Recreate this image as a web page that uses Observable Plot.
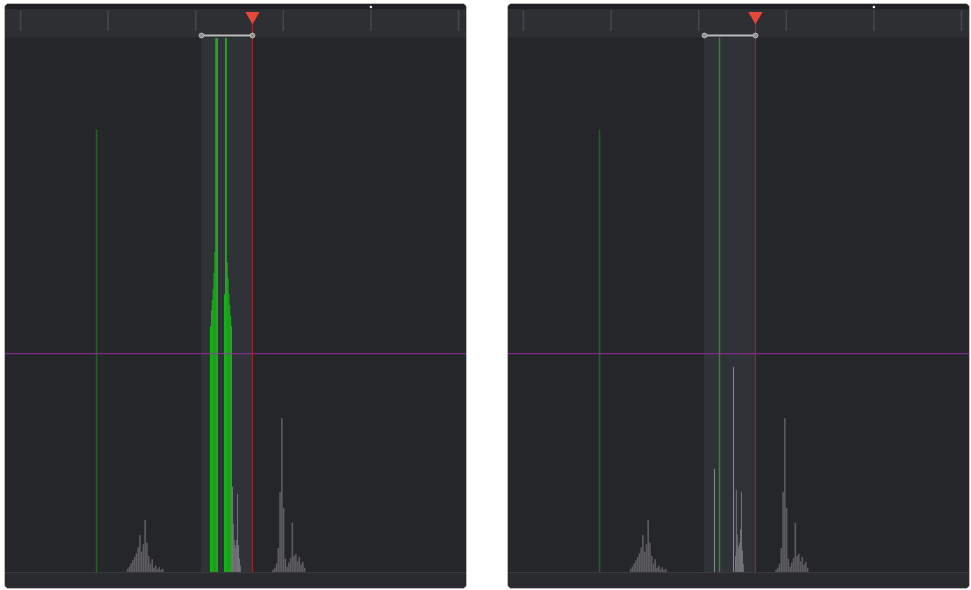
<!DOCTYPE html>
<html><head><meta charset="utf-8">
<script src="https://cdn.jsdelivr.net/npm/d3@7"></script>
<script src="https://cdn.jsdelivr.net/npm/@observablehq/plot@0.6"></script>
<style>
html,body{margin:0;padding:0;background:#fff;width:971px;height:590px;overflow:hidden;}
.panel{position:absolute;top:3px;width:461px;height:584px;border:1px solid #b9b9b9;border-radius:5px;overflow:hidden;background:#252629;}
#left{left:4px} #right{left:507px}
.panel svg{display:block}
</style></head><body>
<div id="left" class="panel"></div><div id="right" class="panel"></div>
<script>
// ---------------- data ----------------
// header time ticks (timeline units)
const headerTicks = [0, 100, 200, 300, 400, 500];
const headerMarker = [400];
// selected range and playhead (timeline units)
const rangeIn = 206.6;
const rangeOut = 264.8;
// reference guides
const guideX = 86.8;        // dark green guide position
const guideTop = 82.8;      // dark green guide height
const purpleLevel = 41.0;   // horizontal purple level
const greenGuideRight = 223.7; // thin green line, right panel

// low cluster (bin start, 2-unit bins)
const lowBins   = [122,124,126,128,130,132,134,136,138,140,142,144,146,148,150,152,154,156,158,160,162];
const lowCounts = [0.6,1.0,1.6,2.2,2.8,3.5,4.6,6.9,3.8,5.2,9.7,5.5,3.0,1.6,2.4,0.8,1.2,0.5,0.9,0.4,0.6];

// high cluster (bin start, 2-unit bins)
const highBins   = [288,290,292,294,296,298,300,302,304,306,308,310,312,314,316,318,320,322,324];
const highCounts = [0.4,0.8,1.6,4.5,15,28.8,12,2.5,1.0,1.8,2.6,9.2,3.0,3.4,2.0,2.8,1.4,1.9,0.8];

// middle cluster (1-unit bins)
const midBins        = [242,243,244,245,246,247,248,249,250,251];
const midCountsLeft  = [16.0,9,6,5,4.5,6,14.6,5,2.5,1.2];
const midCountsRight = [3,15.4,7,5,4.5,5.5,8,15,4,1.5];

// green spikes, left panel (1-unit bins)
const spikeABins   = [217,218,219,220,221,222,223,224,225];
const spikeACounts = [46,49,51,53,56,60,100,100,100];
const spikeBBins   = [233,234,235,236,237,238,239,240,241];
const spikeBCounts = [52,100,100,58,55,52,50,48,46];

// isolated spikes, right panel (1-unit bins)
const soloBins   = [218, 240];
const soloCounts = [19.3, 38.4];

// ---------------- layout (data units) ----------------
const xDom = [-17.12, 509.13];
const yDom = [-3.0, 106.37];
const dataTop = 100.09, headerTop = 105.43;
const tickY1 = 101.3, tickY2 = 105.2, barY = 100.56, markerY = 104.2;

const bins = (b, c, w) => b.map((v, i) => ({x1: v, x2: v + w, y: c[i]}));

function panel(el, variant) {
  const band = (x1, x2, y1, y2) => [{x1, x2, y1, y2}];
  const R = (d, fill) => Plot.rect(d, {x1: "x1", x2: "x2", y1: "y1", y2: "y2", fill});
  const marks = [
    R(band(xDom[0], xDom[1], dataTop, headerTop), "#2d2f33"),
    R(band(xDom[0], xDom[1], headerTop, yDom[1]), "#1f2023"),
    R(band(xDom[0], xDom[1], yDom[0], 0), "#2a2b2e"),
    R(band(rangeIn, rangeOut, 0, dataTop), "#2f3236"),
    Plot.ruleY([0], {stroke: "#3c3d41", strokeWidth: 1}),
    Plot.ruleX(headerTicks, {y1: tickY1, y2: tickY2, stroke: "#45484c", strokeWidth: 1.5}),
    Plot.dot(headerMarker, {x: d => d, y: () => 105.9, r: 1.3, fill: "#e8e8e8"}),
    Plot.ruleX([guideX], {y1: 0, y2: guideTop, stroke: "#2a5c2a", strokeWidth: 1.6}),
    Plot.rectY(bins(lowBins, lowCounts, 1.8), {x1: "x1", x2: "x2", y: "y", fill: "#5e5e62"}),
    Plot.rectY(bins(highBins, highCounts, 1.8), {x1: "x1", x2: "x2", y: "y", fill: "#5e5e62"}),
    Plot.rectY(bins(midBins, variant === "left" ? midCountsLeft : midCountsRight, 0.9), {x1: "x1", x2: "x2", y: "y", fill: "#85858a"})
  ];
  if (variant === "left") {
    marks.push(
      Plot.rectY(bins(spikeABins, spikeACounts, 1), {x1: "x1", x2: "x2", y: "y", fill: "#16c316"}),
      Plot.rectY(bins(spikeBBins, spikeBCounts, 1), {x1: "x1", x2: "x2", y: "y", fill: "#16c316"})
    );
  } else {
    marks.push(
      Plot.rectY(bins(soloBins, soloCounts, 0.9), {x1: "x1", x2: "x2", y: "y", fill: "#a8a8ac"}),
      Plot.ruleX([greenGuideRight], {y1: 0, y2: dataTop, stroke: "#3b7f3b", strokeWidth: 1.5})
    );
  }
  marks.push(
    Plot.ruleY([purpleLevel], {stroke: "#9b2fa8", strokeOpacity: 0.75, strokeWidth: 1.2}),
    Plot.ruleX([rangeOut], {y1: 0, y2: markerY, stroke: "#9a2a2a", strokeWidth: 1.2}),
    Plot.link([{a: rangeIn, b: rangeOut}], {x1: "a", x2: "b", y1: () => barY, y2: () => barY, stroke: "#b9b9b9", strokeWidth: 2}),
    Plot.dot([rangeIn, rangeOut], {x: d => d, y: () => barY, r: 2.4, fill: "#8e8e8e", stroke: "#cfcfcf", strokeWidth: 0.8}),
    Plot.dot([rangeOut], {x: d => d, y: () => markerY, r: 5.3, symbol: "triangle", rotate: 180, fill: "#e5483b"})
  );
  const svg = Plot.plot({
    width: 461, height: 584, margin: 0,
    x: {domain: xDom, axis: null},
    y: {domain: yDom, axis: null},
    style: {background: "transparent", overflow: "hidden"},
    marks
  });
  el.appendChild(svg);
}
panel(document.getElementById("left"), "left");
panel(document.getElementById("right"), "right");
</script>
</body></html>
